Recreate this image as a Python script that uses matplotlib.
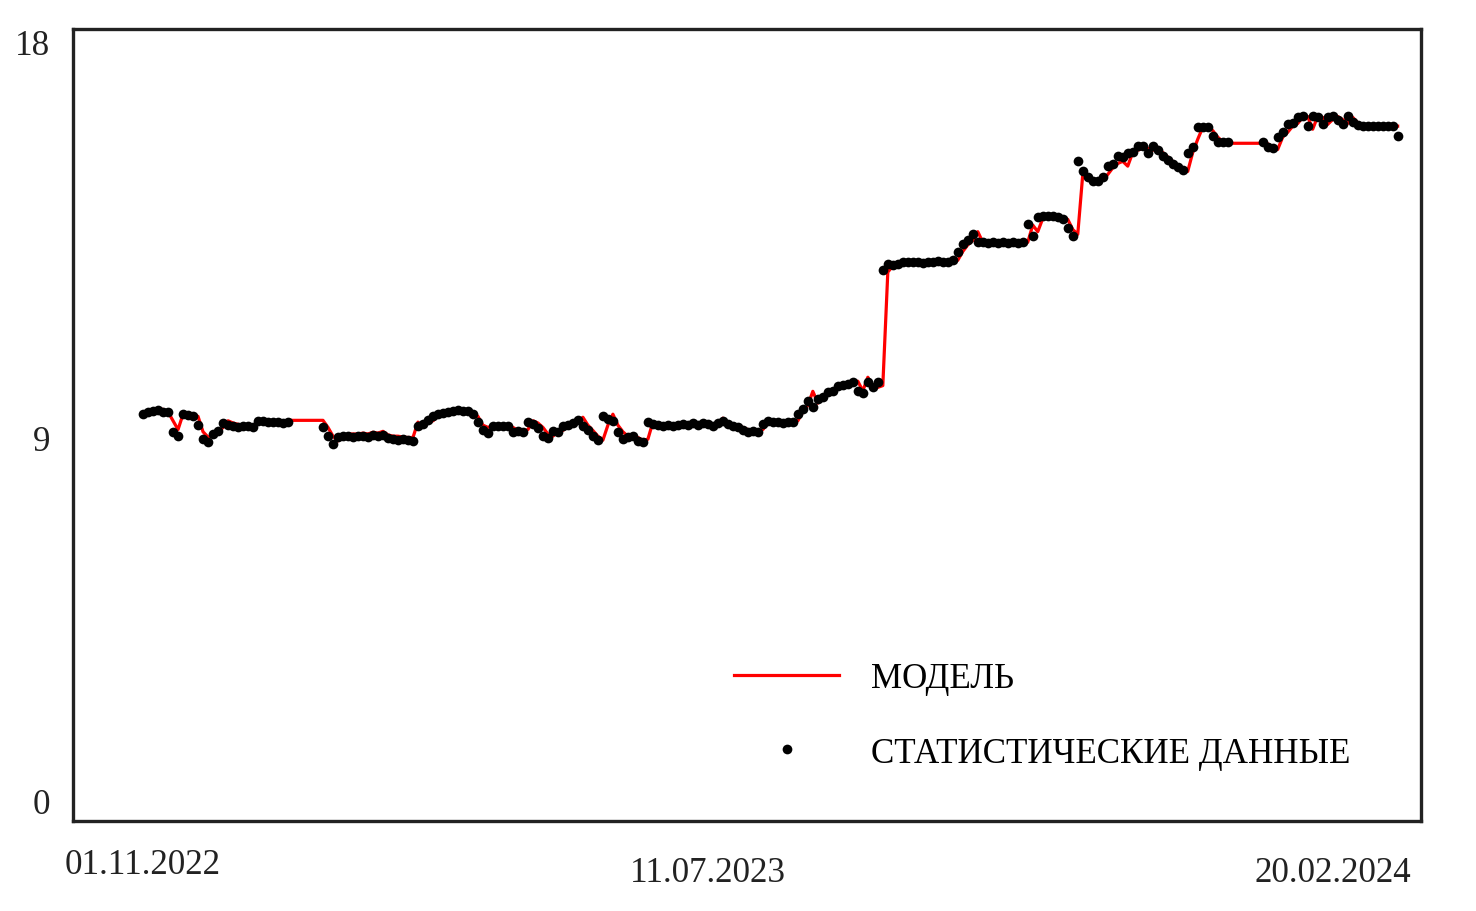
import numpy as np
import matplotlib
matplotlib.use('Agg')
import matplotlib.pyplot as plt

plt.rcParams['font.family'] = ['Liberation Serif', 'DejaVu Serif']

nan = np.nan
statistika = [9.25, 9.30, 9.32, 9.34, 9.30, 9.30, 8.84, 8.75, 9.25, 9.23,
              9.20, 9.00, 8.68, 8.61, 8.80, 8.86, 9.05, 9.00, 8.98, 8.95,
              8.98, 8.98, 8.95, 9.09, 9.09, 9.07, 9.07, 9.07, 9.05, 9.07,
              nan, nan, nan, nan, nan, nan, 8.95, 8.75, 8.57, 8.73,
              8.75, 8.75, 8.73, 8.75, 8.75, 8.73, 8.77, 8.75, 8.78, 8.70,
              8.68, 8.66, 8.68, 8.66, 8.64, 8.98, 9.02, 9.11, 9.20, 9.25,
              9.27, 9.30, 9.32, 9.34, 9.32, 9.32, 9.25, 9.07, 8.90, 8.82,
              8.98, 8.98, 8.98, 8.98, 8.84, 8.86, 8.84, 9.07, 9.02, 8.93,
              8.75, 8.70, 8.86, 8.84, 8.98, 9.00, 9.05, 9.11, 8.98, 8.90,
              8.75, 8.66, 9.20, 9.14, 9.10, 8.84, 8.68, 8.72, 8.75, 8.64,
              8.62, 9.07, 9.02, 9.00, 8.98, 9.00, 8.98, 9.00, 9.02, 9.00,
              9.04, 9.00, 9.05, 9.02, 8.98, 9.05, 9.10, 9.02, 8.98, 8.95,
              8.88, 8.84, 8.86, 8.84, 9.02, 9.09, 9.07, 9.07, 9.05, 9.07,
              9.07, 9.25, 9.36, 9.55, 9.41, 9.59, 9.64, 9.75, 9.78, 9.89,
              9.91, 9.93, 9.98, 9.77, 9.73, 9.98, 9.86, 9.98, 12.52, 12.66,
              12.64, 12.66, 12.70, 12.72, 12.70, 12.70, 12.68, 12.70, 12.72, 12.73,
              12.72, 12.70, 12.75, 12.93, 13.11, 13.20, 13.34, 13.16, 13.16, 13.14,
              13.16, 13.14, 13.16, 13.14, 13.16, 13.14, 13.16, 13.57, 13.30, 13.73,
              13.75, 13.75, 13.75, 13.73, 13.68, 13.48, 13.30, 15.00, 14.77, 14.64,
              14.55, 14.55, 14.64, 14.89, 14.95, 15.11, 15.10, 15.20, 15.22, 15.34,
              15.34, 15.20, 15.34, 15.25, 15.11, 15.02, 14.93, 14.86, 14.80, 15.20,
              15.32, 15.77, 15.77, 15.77, 15.57, 15.45, 15.43, 15.43, nan, nan,
              nan, nan, nan, nan, 15.45, 15.32, 15.30, 15.55, 15.66, 15.84,
              15.86, 16.00, 16.02, 15.80, 16.02, 16.00, 15.84, 16.00, 16.02, 15.95,
              15.84, 16.02, 15.90, 15.82, 15.80, 15.80, 15.80, 15.80, 15.80, 15.80,
              15.80, 15.57]
model = [9.25, 9.30, 9.36, 9.36, 9.36, 9.30, 9.10, 8.90, 9.25, 9.25,
         9.25, 9.20, 8.85, 8.73, 8.75, 8.82, 8.95, 9.10, 9.05, 9.02,
         9.00, 9.00, 9.00, 9.02, 9.09, 9.09, 9.09, 9.09, 9.09, 9.11,
         9.11, 9.11, 9.11, 9.11, 9.11, 9.11, 9.11, 8.95, 8.75, 8.64,
         8.73, 8.80, 8.80, 8.80, 8.82, 8.80, 8.84, 8.82, 8.86, 8.78,
         8.75, 8.75, 8.73, 8.72, 8.72, 9.07, 8.95, 9.05, 9.10, 9.20,
         9.25, 9.30, 9.32, 9.35, 9.35, 9.33, 9.30, 9.20, 9.00, 8.95,
         8.98, 8.98, 9.00, 9.00, 8.95, 8.88, 8.86, 8.90, 9.10, 9.05,
         8.95, 8.80, 8.75, 8.85, 8.88, 8.98, 9.00, 9.05, 9.18, 9.00,
         8.88, 8.75, 8.66, 9.00, 9.25, 9.00, 8.85, 8.75, 8.75, 8.72,
         8.66, 8.68, 9.07, 9.05, 9.02, 9.00, 9.00, 9.02, 9.00, 9.02,
         9.02, 9.04, 9.02, 9.05, 9.02, 9.00, 9.16, 9.05, 9.00, 8.98,
         8.95, 8.90, 8.86, 8.86, 8.90, 9.05, 9.10, 9.07, 9.07, 9.05,
         9.07, 9.10, 9.30, 9.45, 9.77, 9.50, 9.60, 9.68, 9.75, 9.82,
         9.90, 9.93, 9.95, 10.00, 9.78, 10.09, 9.90, 9.86, 9.90, 12.48,
         12.62, 12.66, 12.68, 12.70, 12.72, 12.70, 12.70, 12.68, 12.70, 12.72,
         12.73, 12.72, 12.70, 12.75, 12.95, 13.10, 13.20, 13.40, 13.16, 13.16,
         13.14, 13.16, 13.14, 13.16, 13.14, 13.16, 13.11, 13.16, 13.55, 13.40,
         13.70, 13.75, 13.75, 13.75, 13.73, 13.68, 13.45, 13.34, 14.70, 14.70,
         14.60, 14.57, 14.57, 14.70, 14.85, 14.95, 15.00, 14.89, 15.20, 15.25,
         15.30, 15.30, 15.25, 15.32, 15.20, 15.10, 15.00, 14.90, 14.82, 14.77,
         15.20, 15.50, 15.77, 15.80, 15.70, 15.55, 15.45, 15.43, 15.41, 15.41,
         15.41, 15.41, 15.41, 15.41, 15.41, 15.40, 15.32, 15.27, 15.55, 15.66,
         15.80, 15.86, 16.00, 16.02, 15.73, 16.02, 16.00, 15.84, 15.95, 16.02,
         15.95, 15.86, 16.00, 15.88, 15.80, 15.80, 15.80, 15.80, 15.80, 15.80,
         15.80, 15.80]
x_pos = [0, 113, 238]
x_labels = ['01.11.2022', '11.07.2023', '20.02.2024']
y_ticks = [0, 9, 18]

x = np.arange(len(model))

fig = plt.figure(figsize=(14.76, 9.12), dpi=100)
ax = fig.add_axes([0.0495, 0.0987, 0.913, 0.868])
ax.plot(x, model, color='#ff0000', lw=2.3, label='МОДЕЛЬ', zorder=2)
ax.plot(x, statistika, 'o', color='black', ms=7, mew=0, label='СТАТИСТИЧЕСКИЕ ДАННЫЕ', zorder=3)

ax.set_xlim(-14, 255.6)
ax.set_ylim(0, 18)
ax.set_xticks(x_pos)
ax.set_xticklabels(x_labels, fontsize=25.2, color='#222222')
ax.set_yticks(y_ticks)
ax.set_yticklabels([str(v) for v in y_ticks], fontsize=25.2, color='#222222')
ax.tick_params(axis='x', length=0, pad=25.5)
ax.tick_params(axis='y', length=0, pad=16.5)
xt = ax.xaxis.get_major_ticks()
xt[0].set_pad(19.5)
yl = ax.get_yticklabels()
yl[0].set_va('bottom')
yl[1].set_va('top')
yl[2].set_va('top')
for s in ax.spines.values():
    s.set_linewidth(2.4)
    s.set_color('#222222')

ax.legend(loc='lower right', frameon=False, fontsize=25.2, handlelength=3.0,
          handletextpad=0.9, labelspacing=1.18, numpoints=1,
          bbox_to_anchor=(0.971, 0.025))
plt.savefig('out.png', dpi=100)
